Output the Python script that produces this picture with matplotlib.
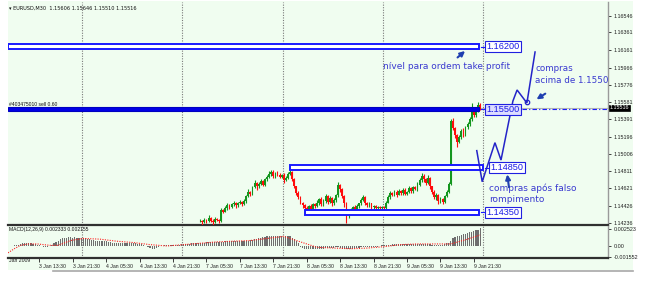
import matplotlib
matplotlib.use('Agg')
import matplotlib.pyplot as plt
import numpy as np
from matplotlib.patches import Rectangle

# ---------------- data ----------------
base_price = 1.1400
candle_start = 92          # bar index of first visible candle
first_open_pips = 25
close_pips = [26, 24, 27, 25, 29, 26, 24, 28, 27, 25,
              38, 36, 40, 43, 41, 44, 46, 43, 45, 47,
              44, 48, 53, 58, 56, 63, 68, 64, 67, 70,
              66, 72, 75, 78, 80, 76, 79, 77, 75, 77,
              71, 74, 78, 80, 72, 64, 57, 52, 46, 43,
              40, 38, 42, 39, 44, 42, 46, 50, 44, 48,
              53, 47, 51, 45, 49, 54, 66, 61, 53, 45,
              32, 35, 38, 41, 37, 42, 45, 49, 52, 46,
              43, 45, 41, 42, 40, 41, 40, 41, 40, 46,
              52, 57, 55, 58, 55, 59, 57, 60, 56, 58,
              62, 59, 63, 61, 66, 71, 76, 72, 68, 74,
              64, 58, 52, 55, 48, 50, 47, 53, 58, 67,
              137, 129, 121, 114, 119, 126, 122, 130, 134, 139,
              147, 144, 150, 155, 151.6]
upper_wick = [2, 1, 2, 1, 3, 1, 2, 2, 1, 1,
              2, 1, 2, 2, 1, 2, 2, 1, 2, 2,
              1, 2, 2, 3, 1, 2, 3, 1, 2, 2,
              1, 2, 2, 3, 2, 2, 1, 2, 2, 1,
              2, 2, 2, 3, 1, 1, 1, 2, 1, 1,
              1, 2, 1, 2, 1, 2, 3, 1, 2, 2,
              3, 1, 2, 1, 2, 2, 3, 1, 1, 1,
              2, 1, 2, 1, 2, 2, 1, 2, 3, 1,
              1, 2, 1, 1, 1, 1, 1, 1, 1, 2,
              2, 2, 1, 2, 2, 2, 1, 2, 2, 1,
              2, 1, 2, 2, 3, 2, 3, 2, 1, 3,
              1, 1, 2, 2, 1, 2, 1, 2, 2, 2,
              2, 3, 1, 2, 2, 2, 3, 2, 2, 3,
              10, 2, 3, 3, 2]
lower_wick = [1, 3, 1, 2, 1, 2, 3, 1, 2, 2,
              1, 2, 1, 2, 2, 1, 2, 3, 2, 1,
              2, 1, 2, 1, 3, 2, 1, 4, 2, 1,
              2, 1, 2, 1, 2, 3, 2, 1, 2, 2,
              3, 1, 2, 1, 2, 2, 3, 2, 2, 3,
              2, 3, 2, 2, 3, 2, 1, 3, 2, 2,
              2, 3, 2, 3, 2, 2, 2, 3, 2, 4,
              9, 3, 2, 2, 3, 2, 2, 2, 1, 3,
              2, 2, 3, 2, 2, 1, 2, 2, 2, 1,
              1, 2, 2, 2, 3, 1, 2, 2, 2, 2,
              1, 2, 2, 1, 2, 1, 2, 3, 2, 1,
              3, 2, 2, 3, 4, 2, 3, 2, 1, 1,
              1, 2, 3, 6, 2, 2, 3, 2, 2, 2,
              2, 3, 2, 3, 2]

# MACD main (x1e-4), one value per bar from bar 0
macd_e4 = [0.5, 0.3, 0.5, 1, 1.5, 2,
           3, 4, 4, 4.5, 4, 4, 3.5, 3,
           2, 1, 0, -1, -1.5, -1, 0,
           2, 4, 6, 8, 10, 11, 12,
           12, 13, 13, 12, 13, 12, 12, 11, 12, 11,
           10, 10, 9, 9, 8, 8, 8, 7, 7, 7, 6, 6,
           5, 5, 5, 4, 4, 4, 4, 4, 4, 4, 4, 4, 3, 3, 3, 2,
           0, -2, -3, -5, -4, -3,
           -1, 0, 0, 1, 1, 1, 1, 1,
           2, 2, 2, 3, 3, 3, 3, 3, 4, 4, 4, 4,
           5, 5, 5, 6, 6, 6, 6, 6, 6, 6, 6, 6, 7, 7, 7, 7, 7, 7, 8, 8,
           8, 8, 8, 8, 9, 9, 10, 10, 11, 12,
           13, 13, 14, 14, 14, 15, 15, 14, 14, 14, 13, 14, 14, 14,
           12, 10, 8, 5,
           -1, -3, -4, -5, -5, -5, -5, -5, -4, -4, -4, -4, -3, -3, -3, -3, -3, -2, -2, -3, -4, -5,
           -5, -5, -4, -4, -3, -3, -3, -2, -2, -2, -2, -2, -1, -1, -1, -1, 0, 1, 1,
           1, 2, 2, 3, 3, 3, 3, 3, 3, 3, 3, 3, 3, 3, 3, 3, 3, 3, 3, 3, 3, 3, 2, 2, 2, 1,
           1, 2, 3, 4, 5, 8,
           11, 13, 14, 15, 16, 17, 18, 19, 20, 21, 22, 23, 24, 26]
signal_bar = [0, 3, 6, 10, 14, 20, 24, 30, 36, 44, 52, 60, 68, 76, 84, 92, 100, 108,
              116, 124, 132, 140, 148, 156, 164, 172, 180, 188, 196, 204, 212, 220, 226]
signal_e4 = [-10, -4, 1, 3, 3, 1, 1, 8, 11, 10, 7, 5, 2, 0, 2, 4, 6, 7,
             8, 11, 14, 6, -2, -3, -4, -3, -1, 2, 3, 3, 3, 10, 16]

price_ticks = [1.16546, 1.16361, 1.16161, 1.15966, 1.15776, 1.15581, 1.15391,
               1.15196, 1.15006, 1.14811, 1.14621, 1.14426, 1.14236]
macd_ticks = [0.002523, 0.0, -0.001552]
macd_tick_labels = ['0.002523', '0.00', '-0.001552']
time_tick_bars = [15, 31, 47, 63, 79, 95, 111, 127, 143, 159, 175, 191, 207, 223]
time_tick_labels = ['3 Jan 13:30', '3 Jan 21:30', '4 Jan 05:30', '4 Jan 13:30',
                    '4 Jan 21:30', '7 Jan 05:30', '7 Jan 13:30', '7 Jan 21:30',
                    '8 Jan 05:30', '8 Jan 13:30', '8 Jan 21:30', '9 Jan 05:30',
                    '9 Jan 13:30', '9 Jan 21:30']
day_separators = [35.5, 83.5, 131.5, 179.5, 227.5]
bid_price = 1.15516

levels = [1.16200, 1.15500, 1.14850, 1.14350]
level_labels = ['1.16200', '1.15500', '1.14850', '1.14350']
zone_start = [0, 0, 135, 142.2]
zone_end = [225.5, 225.5, 227.4, 225.5]

zigzag_bar = [224.4, 227.0, 233.1, 236.0, 241.7, 243.7, 248.4, 252.3]
zigzag_price = [1.15040, 1.14693, 1.15129, 1.14935, 1.15594, 1.15717, 1.15572, 1.16141]

# ---------------- figure ----------------
W, H = 646, 288
fig = plt.figure(figsize=(W / 100, H / 100), dpi=100)
fig.patch.set_facecolor('white')

def fx(px):
    return px / W

def fy(py):
    return 1 - py / H

BG = '#f0fdf0'
BLUE = '#1a1aff'
TXT = '#3a3ad0'

bg = Rectangle((fx(8), fy(270)), fx(633) - fx(8), fy(1) - fy(270),
               transform=fig.transFigure, facecolor=BG, edgecolor='none', zorder=-10)
fig.add_artist(bg)
fig.add_artist(plt.Line2D([fx(53), fx(633)], [fy(270.5), fy(270.5)],
                          transform=fig.transFigure, color='#a8a8a8', lw=1.2, zorder=-5))

ax = fig.add_axes([fx(8), fy(225), fx(608) - fx(8), fy(2) - fy(225)])
axm = fig.add_axes([fx(8), fy(258), fx(608) - fx(8), fy(226) - fy(258)])
nbars = 600 / 2.089
for a in (ax, axm):
    a.set_facecolor('none')
    a.set_xlim(0, nbars)
    for s in ('top', 'left'):
        a.spines[s].set_visible(False)
    a.spines['right'].set_color('#9a9a9a')
    a.spines['right'].set_linewidth(1.0)
    a.spines['bottom'].set_color('#303030')
    a.spines['bottom'].set_linewidth(1.6)
    a.yaxis.tick_right()
    a.tick_params(axis='y', labelsize=3.6, length=2.5, width=0.6, pad=1.5,
                  colors='#202020')
    for sep in day_separators:
        a.axvline(sep, color='#7a7a7a', lw=0.8, ls=(0, (1, 1.3)), zorder=1)

ax.set_ylim(1.14210, 1.16699)
axm.set_ylim(-0.00175, 0.002915)
ax.set_yticks(price_ticks)
ax.set_yticklabels([f'{t:.5f}' for t in price_ticks])
ax.set_xticks([])
axm.set_yticks(macd_ticks)
axm.set_yticklabels(macd_tick_labels)
axm.set_xticks(time_tick_bars)
axm.set_xticklabels(time_tick_labels, ha='left', fontsize=3.7,
                    family='Liberation Sans')
axm.tick_params(axis='x', length=3, width=0.6, pad=1.2, colors='#202020')
for lab in ax.get_yticklabels() + axm.get_yticklabels():
    lab.set_family('Liberation Sans')
    lab.set_fontsize(3.9)

# ---------------- candles ----------------
closes = base_price + np.array(close_pips) / 10000.0
opens = np.concatenate([[base_price + first_open_pips / 10000.0], closes[:-1]])
highs = np.maximum(opens, closes) + np.array(upper_wick) / 10000.0
lows = np.minimum(opens, closes) - np.array(lower_wick) / 10000.0
xs = candle_start + np.arange(len(closes))
bull = closes >= opens
cols = np.where(bull, '#14961e', '#ff0c0c')
ax.vlines(xs, lows, highs, colors=cols, lw=0.8, zorder=3)
body_b = np.minimum(opens, closes)
body_h = np.maximum(np.abs(closes - opens), 0.00006)
ax.bar(xs, body_h, bottom=body_b, width=0.85, color=cols, lw=0, zorder=3)

# bid line
ax.axhline(bid_price, color='#b4b4b4', lw=0.8, zorder=2)
ax.plot([246, nbars], [levels[1], levels[1]], color=BLUE, lw=0.8,
        ls=(0, (4, 2, 1, 2)), zorder=2)

# ---------------- zones ----------------
half = 0.00030
for k, (lv, lab) in enumerate(zip(levels, level_labels)):
    x0, x1 = zone_start[k], zone_end[k]
    if k == 1:
        ax.add_patch(Rectangle((x0, lv - 0.00022), x1 - x0, 0.00044,
                               facecolor='#0000e6', edgecolor='#0000c0', lw=0.8, zorder=4))
    else:
        ax.add_patch(Rectangle((x0, lv - half), x1 - x0, 2 * half,
                               facecolor='white', edgecolor=BLUE, lw=1.4, zorder=4))
    lx = x1 + 3.6
    ax.plot([x1 + 0.8, lx - 0.4], [lv, lv], color=BLUE, lw=0.8, zorder=4)
    ax.text(lx, lv, lab, fontsize=6.6, family='Liberation Sans', color='#1a1ae6',
            ha='left', va='center', zorder=6,
            bbox=dict(boxstyle='square,pad=0.12',
                      fc='#dcdcff' if k == 1 else 'white', ec='#2020e0', lw=0.8))

# ---------------- zigzag & annotations ----------------
ax.plot(zigzag_bar, zigzag_price, color='#2424c8', lw=1.1, zorder=5,
        solid_joinstyle='miter', clip_on=False)
ax.plot([zigzag_bar[6]], [zigzag_price[6] + 0.00008], marker='o', ms=3.2,
        mfc='none', mec='#2424c8', mew=0.9, zorder=5)

ax.text(179.5, 1.15974, 'nível para ordem take profit', fontsize=6.5,
        color=TXT, ha='left', va='center', zorder=6)
ax.text(252.3, 1.15890, 'compras\nacima de 1.1550', fontsize=6.3,
        color=TXT, ha='left', va='center', linespacing=1.3, zorder=6)
ax.text(230.3, 1.14560, 'compras após falso\nrompimento', fontsize=6.5,
        color=TXT, ha='left', va='center', linespacing=1.25, zorder=6)

arrow_kw = dict(arrowstyle='-|>,head_length=0.28,head_width=0.14', color='#1f3fb0',
                lw=1.5, shrinkA=0, shrinkB=0, mutation_scale=10)
ax.annotate('', xy=(218.8, 1.16152), xytext=(215.2, 1.16080), arrowprops=arrow_kw, zorder=6)
ax.annotate('', xy=(253.0, 1.15612), xytext=(257.2, 1.15676), arrowprops=arrow_kw, zorder=6)
ax.annotate('', xy=(239.0, 1.14775), xytext=(239.8, 1.14632), arrowprops=arrow_kw, zorder=6)

# small texts
ax.text(0.5, 1.1663, '▾ EURUSD,M30  1.15606 1.15646 1.15510 1.15516', fontsize=3.6,
        color='#101010', ha='left', va='center', family='DejaVu Sans')
ax.text(0.5, 1.15558, '#403475010 sell 0.60', fontsize=3.6, color='#101010',
        ha='left', va='center', family='Liberation Sans', zorder=5)
axm.text(0.5, 0.00238, 'MACD(12,26,9) 0.002333 0.002155', fontsize=3.6,
         color='#101010', ha='left', va='center', family='Liberation Sans')
axm.text(0.3, -0.00175, 'Jan 2009', fontsize=3.7, color='#202020',
         family='Liberation Sans', ha='left', va='top', clip_on=False)

# current price tag
ax.text(nbars + 0.8, bid_price, '1.15516', fontsize=3.9, color='white',
        family='Liberation Sans', ha='left', va='center', zorder=7, clip_on=False,
        bbox=dict(boxstyle='square,pad=0.15', fc='black', ec='black', lw=0.5))

# ---------------- MACD ----------------
macd = np.array(macd_e4) * 1e-4
axm.bar(np.arange(len(macd)), macd, width=0.55, color='#6e6e6e', lw=0, zorder=2)
axm.plot(signal_bar, np.array(signal_e4) * 1e-4, color='#ff2020', lw=0.8,
         ls=(0, (1, 1.2)), zorder=3)

fig.savefig('out.png', dpi=100, facecolor='white')
